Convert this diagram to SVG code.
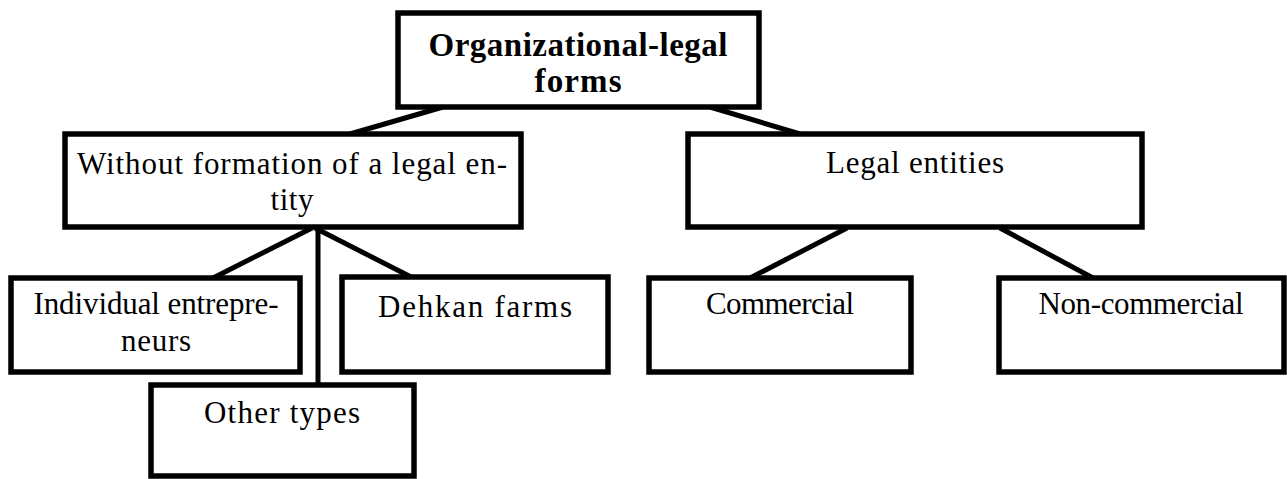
<svg xmlns="http://www.w3.org/2000/svg" width="1287" height="479" viewBox="0 0 1287 479">
<style>
.box{fill:#fff;stroke:#000;stroke-width:5.5}
.t{font-family:"Liberation Serif","DejaVu Serif",serif;font-size:31px;fill:#000;text-anchor:middle}
.b{font-weight:bold;font-size:33px}
.c line{stroke:#000;stroke-width:5}
</style>
<rect width="1287" height="479" fill="#fff"/>
<g id="connectors" class="c">
<line x1="443" y1="107" x2="350" y2="134"/>
<line x1="710" y1="107" x2="800" y2="134"/>
<line x1="312" y1="228" x2="213" y2="278"/>
<line x1="318" y1="228" x2="318" y2="385"/>
<line x1="315" y1="228" x2="413" y2="278"/>
<line x1="847" y1="228" x2="750" y2="278"/>
<line x1="1000" y1="228" x2="1093" y2="278"/>
</g>
<g id="root">
<rect class="box" x="398" y="13" width="361" height="94"/>
<text class="t b" x="578" y="56" textLength="299">Organizational-legal</text>
<text class="t b" x="578" y="92" textLength="87">forms</text>
</g>
<g id="without">
<rect class="box" x="65" y="134" width="456" height="93"/>
<text class="t" x="292" y="174" textLength="430">Without formation of a legal en-</text>
<text class="t" x="292" y="210" textLength="43">tity</text>
</g>
<g id="legal">
<rect class="box" x="688" y="134" width="454" height="93"/>
<text class="t" x="915" y="173" textLength="178">Legal entities</text>
</g>
<g id="individual">
<rect class="box" x="11" y="278" width="289" height="94"/>
<text class="t" x="156" y="314" textLength="245">Individual entrepre-</text>
<text class="t" x="156" y="351" textLength="70">neurs</text>
</g>
<g id="dehkan">
<rect class="box" x="342" y="277" width="266" height="95"/>
<text class="t" x="475" y="317" textLength="194">Dehkan farms</text>
</g>
<g id="other">
<rect class="box" x="151" y="385" width="263" height="91"/>
<text class="t" x="282" y="423" textLength="156">Other types</text>
</g>
<g id="commercial">
<rect class="box" x="649" y="278" width="262" height="94"/>
<text class="t" x="780" y="314" textLength="148">Commercial</text>
</g>
<g id="noncommercial">
<rect class="box" x="999" y="278" width="285" height="94"/>
<text class="t" x="1141" y="314" textLength="205">Non-commercial</text>
</g>
</svg>
